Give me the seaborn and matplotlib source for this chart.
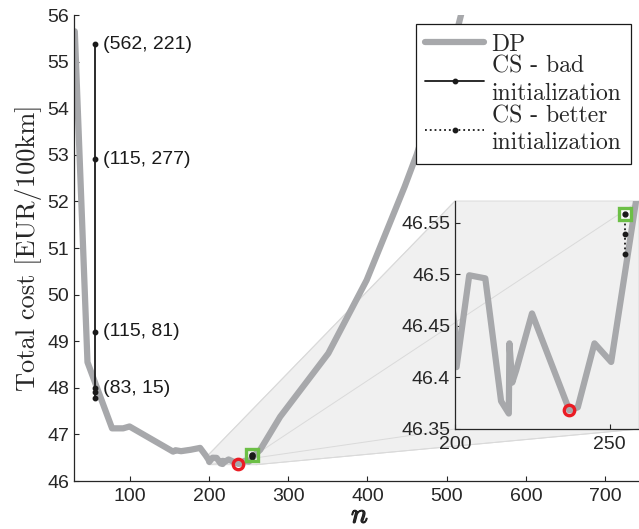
"""DP vs CS total cost over n, with zoomed inset near the optimum."""
import matplotlib
matplotlib.use("Agg")
import matplotlib.pyplot as plt
import matplotlib.patheffects as pe
from matplotlib.ticker import FormatStrFormatter
import seaborn as sns
import pandas as pd

# DP cost curve
dp_n = [31, 47, 78, 92, 100, 155, 158, 165, 177, 189, 196, 200, 200.5, 204.6,
        209.8, 214.9, 217.4, 217.6, 218.5, 219.8, 224.9, 237.0, 239.7, 245.1,
        250.5, 258.6, 264.8, 290, 350.7, 399, 447, 462, 490, 515, 530]
dp_cost = [55.65, 48.55, 47.13, 47.13, 47.17, 46.63, 46.66, 46.64, 46.67, 46.71,
           46.55, 46.447, 46.41, 46.499, 46.496, 46.377, 46.365, 46.433, 46.395,
           46.407, 46.462, 46.368, 46.371, 46.433, 46.415, 46.572, 46.67, 47.38,
           48.74, 50.31, 52.32, 53.0, 54.5, 55.8, 56.8]

# CS iterations
bad_n = [56, 56, 56, 56, 56, 56]
bad_cost = [55.37, 52.90, 49.20, 47.99, 47.90, 47.78]
bad_labels = ["(562, 221)", "(115, 277)", "(115, 81)", "(83, 15)"]
better_n = [255, 255, 255]
better_cost = [46.558, 46.539, 46.520]

dp_min = (237.0, 46.368)
cs_final = (255, 46.558)

GRAY = "#a7a8ab"
BLACK = "#1a1a1a"
GREEN = "#6cbf46"
RED = "#ea1c24"

sns.set_theme(style="ticks")
plt.rcParams["font.family"] = ["Liberation Sans", "DejaVu Sans"]
plt.rcParams["axes.unicode_minus"] = False

dp = pd.DataFrame({"n": dp_n, "cost": dp_cost})

fig = plt.figure(figsize=(6.39, 5.29), dpi=100)
bg = fig.add_axes([0, 0, 1, 1], zorder=0)
bg.set_xlim(0, 1)
bg.set_ylim(0, 1)
bg.axis("off")

ax = fig.add_axes([74 / 639, 1 - 481 / 529, 571 / 639, 466 / 529], zorder=1)
ax.set_facecolor("none")
ins = fig.add_axes([455 / 639, 1 - 429 / 529, 184 / 639, 228 / 529], zorder=2)
ins.set_facecolor("none")

for a in (ax, ins):
    sns.lineplot(data=dp, x="n", y="cost", ax=a, sort=False, estimator=None,
                 color=GRAY, lw=4.5, label="DP" if a is ax else None, zorder=2)
    a.plot(bad_n, bad_cost, "-", color=BLACK, lw=1.3, marker="o", ms=3.2,
           label="CS - bad\ninitialization" if a is ax else None, zorder=3)
    a.plot(better_n, better_cost, ":", color=BLACK, lw=1.3, marker="o", ms=3.2,
           label="CS - better\ninitialization" if a is ax else None, zorder=3)
    a.plot(*dp_min, "o", ms=7.5, mew=2.4, mec=RED, mfc="none", zorder=4)
    a.plot(*cs_final, "s", ms=8.5, mew=2.4, mec=GREEN,
           mfc="white" if a is ins else "none", zorder=4)
    a.plot(*cs_final, "o", ms=3.5, color=BLACK, zorder=5)
    a.set_xlabel("")
    a.set_ylabel("")
    sns.despine(ax=a)
    for s in ("left", "bottom"):
        a.spines[s].set_color("#262626")
        a.spines[s].set_linewidth(0.9)
    a.tick_params(direction="in", length=3.5, width=0.8, labelsize=14,
                  colors="#262626")
    a.tick_params(axis="x", pad=5)

ax.set_xlim(30, 750)
ax.set_ylim(46, 56)
ax.set_xticks([100, 200, 300, 400, 500, 600, 700])
ax.set_yticks(range(46, 57))

ins.set_xlim(200, 259.5)
ins.set_ylim(46.35, 46.571)
ins.set_xticks([200, 250])
ins.set_yticks([46.35, 46.4, 46.45, 46.5, 46.55])
ins.yaxis.set_major_formatter(FormatStrFormatter("%g"))

for yv, txt in zip(bad_cost, bad_labels):
    ax.annotate(txt, (bad_n[0], yv), xytext=(6, 0), textcoords="offset points",
                va="center", ha="left", fontsize=14, color=BLACK)

ax.set_ylabel("Total cost [EUR/100km]", family="cmr10", fontsize=19, labelpad=4)
ax.set_xlabel("n", family="cmmi10", fontsize=20, labelpad=-1,
              path_effects=[pe.withStroke(linewidth=0.9, foreground=BLACK)])

leg = ax.legend(loc="upper left", bbox_to_anchor=(416 / 639, 1 - 24 / 529),
                bbox_transform=fig.transFigure, borderaxespad=0, frameon=True,
                fancybox=False, framealpha=1, edgecolor=BLACK,
                prop={"family": "cmr10", "size": 17}, handlelength=2.5,
                handletextpad=0.3, labelspacing=0.0, borderpad=0.4,
                numpoints=1)
leg.get_frame().set_linewidth(0.9)
leg.set_zorder(10)
for t in leg.get_texts():
    t.set_linespacing(1.3)

# zoom connectors, drawn in figure fractions
to_fig = fig.transFigure.inverted()
x0, x1 = ins.get_xlim()
y0, y1 = ins.get_ylim()
m = to_fig.transform(ax.transData.transform([(x0, y1), (x1, y1), (x1, y0), (x0, y0)]))
i = to_fig.transform(ins.transAxes.transform([(0, 1), (1, 1), (1, 0), (0, 0)]))
hull = [m[0], i[0], i[1], i[2], m[2], m[3]]
bg.fill([p[0] for p in hull], [p[1] for p in hull], color="#f0f0f0",
        ec="#dadada", lw=0.7)
for a_pt, b_pt in zip(m, i):
    bg.plot([a_pt[0], b_pt[0]], [a_pt[1], b_pt[1]], color="#dadada", lw=0.7)

fig.savefig("out.png", dpi=100)
